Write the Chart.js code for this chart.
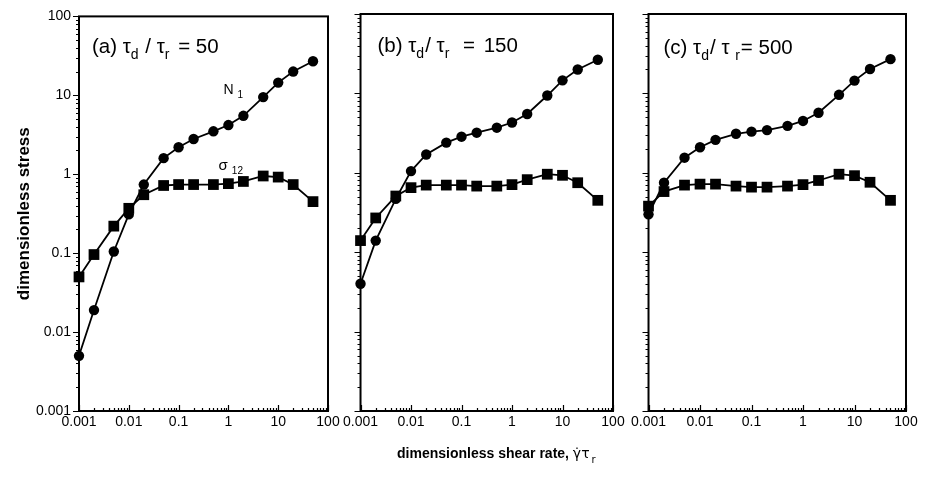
<!DOCTYPE html>
<html>
<head>
<meta charset="utf-8">
<script src="https://cdn.jsdelivr.net/npm/chart.js@4.4.1/dist/chart.umd.min.js"></script>
<style>
  html, body { margin: 0; padding: 0; background: #fff; }
  #wrap { position: relative; width: 928px; height: 482px; overflow: hidden; background: #fff; }
  canvas { position: absolute; top: 0; }
  #xtitle { position: absolute; left: 397px; top: 445px; font: bold 14px "Liberation Sans", Arial, sans-serif; color: #000; white-space: nowrap; }
  #xtitle .sym { font-weight: normal; font-family: "DejaVu Sans", "Liberation Sans", sans-serif; font-size: 14px; }
  #xtitle sub { font-size: 10px; vertical-align: -5px; margin-left: 2px; }
</style>
</head>
<body>
<div id="wrap">
  <canvas id="ca" width="345" height="482" style="left:0px"></canvas>
  <canvas id="cb" width="292" height="482" style="left:340px"></canvas>
  <canvas id="cc" width="300" height="482" style="left:628px"></canvas>
  <div id="xtitle">dimensionless shear rate, <span class="sym">γ̇τ<sub>r</sub></span></div>
</div>
<script>
// ---- data ----
const shearRate = [0.001, 0.002, 0.005, 0.01, 0.02, 0.05, 0.1, 0.2, 0.5, 1, 2, 5, 10, 20, 50];

const n1A  = [0.005, 0.019, 0.105, 0.31, 0.74, 1.6, 2.2, 2.8, 3.5, 4.2, 5.5, 9.5, 14.5, 20, 27];
const s12A = [0.05, 0.096, 0.22, 0.37, 0.55, 0.72, 0.74, 0.74, 0.74, 0.76, 0.81, 0.95, 0.92, 0.74, 0.45];

const n1B  = [0.04, 0.14, 0.47, 1.05, 1.7, 2.4, 2.85, 3.2, 3.7, 4.3, 5.5, 9.4, 14.6, 20, 26.5];
const s12B = [0.14, 0.27, 0.51, 0.65, 0.70, 0.70, 0.70, 0.68, 0.68, 0.71, 0.82, 0.96, 0.93, 0.75, 0.45];

const n1C  = [0.30, 0.75, 1.55, 2.1, 2.6, 3.1, 3.3, 3.45, 3.9, 4.5, 5.7, 9.6, 14.5, 20.3, 27];
const s12C = [0.38, 0.58, 0.70, 0.72, 0.72, 0.68, 0.66, 0.66, 0.68, 0.71, 0.80, 0.96, 0.92, 0.76, 0.45];

const decades = [0.001, 0.01, 0.1, 1, 10, 100];
const tickLabels = ['0.001', '0.01', '0.1', '1', '10', '100'];
const minorMultipliers = [2, 3, 4, 5, 6, 7, 8, 9];

const panelTags = ['(a)', '(b)', '(c)'];
const ratioValues = ['50', '150', '500'];
const yTitle = 'dimensionless stress';
const n1Label = ['N', '1'];
const s12Label = ['σ', '12'];

// ---- helpers ----
const FONT = '"Liberation Sans", Arial, sans-serif';

function allTicks() {
  const out = [];
  decades.forEach((d, i) => {
    out.push(d);
    if (i < decades.length - 1) minorMultipliers.forEach(m => out.push(d * m));
  });
  return out;
}
function isDecade(v) {
  return decades.some(d => Math.abs(v / d - 1) < 1e-6);
}
function labelFor(v) {
  const i = decades.findIndex(d => Math.abs(v / d - 1) < 1e-6);
  return i >= 0 ? tickLabels[i] : '';
}
function pts(ys) { return shearRate.map((x, i) => ({ x, y: ys[i] })); }

function drawRich(ctx, parts, x, y, size) {
  let cx = x;
  parts.forEach(p => {
    const fs = p.sub ? Math.round(size * 0.68) : size;
    ctx.font = fs + 'px ' + FONT;
    ctx.fillText(p.t, cx, p.sub ? y + size * 0.28 : y);
    cx += ctx.measureText(p.t).width + (p.gap || 0);
  });
}

// heading typesetting per panel (spacing mirrors the original figure)
function headingParts(i) {
  const tag = panelTags[i], val = ratioValues[i];
  if (i === 0) return [
    { t: tag + ' τ' }, { t: 'd', sub: true, gap: 1 }, { t: ' / τ' },
    { t: 'r', sub: true, gap: 3 }, { t: ' = ' + val }
  ];
  if (i === 1) return [
    { t: tag + ' τ' }, { t: 'd', sub: true, gap: 1 }, { t: '/ τ' },
    { t: 'r', sub: true, gap: 8 }, { t: ' = ', gap: 3 }, { t: val }
  ];
  return [
    { t: tag + ' τ' }, { t: 'd', sub: true, gap: 1 }, { t: '/ τ ' },
    { t: 'r', sub: true, gap: 1 }, { t: '= ' + val }
  ];
}

const frameTicks = {
  id: 'frameTicks',
  beforeDatasetsDraw(chart) {
    const { ctx, chartArea: a, scales: { x, y } } = chart;
    ctx.save();
    ctx.strokeStyle = '#000';
    ctx.lineWidth = 1.2;
    ctx.beginPath();
    x.ticks.forEach(t => {
      const px = Math.round(x.getPixelForValue(t.value)) + 0.5;
      const len = isDecade(t.value) ? 6 : 3;
      ctx.moveTo(px, a.bottom);
      ctx.lineTo(px, a.bottom - len);
    });
    y.ticks.forEach(t => {
      const py = Math.round(y.getPixelForValue(t.value)) + 0.5;
      const len = isDecade(t.value) ? 6 : 3;
      ctx.moveTo(a.left, py);
      ctx.lineTo(a.left - len, py);
    });
    ctx.stroke();
    ctx.lineWidth = 2;
    ctx.strokeRect(a.left, a.top, a.right - a.left, a.bottom - a.top);
    ctx.restore();
  },
  afterDraw(chart, args, opts) {
    const { ctx, chartArea: a, scales: { x, y } } = chart;
    ctx.save();
    ctx.fillStyle = '#000';
    ctx.textBaseline = 'alphabetic';
    ctx.textAlign = 'left';
    const i = opts.index;
    drawRich(ctx, headingParts(i), a.left + opts.labelDx, a.top + opts.labelDy, 20.5);
    if (i === 0) {
      // curve annotations placed near the curves via the scales
      const nx = x.getPixelForValue(1);
      const ny = y.getPixelForValue(10);
      drawRich(ctx, [{ t: n1Label[0] + ' ' }, { t: n1Label[1], sub: true }], nx - 5, ny - 1, 14);
      const sy = y.getPixelForValue(1);
      drawRich(ctx, [{ t: s12Label[0] + ' ' }, { t: s12Label[1], sub: true }], nx - 10, sy - 4, 15);
    }
    ctx.restore();
  }
};

function makeChart(id, n1, s12, opt) {
  const ctx = document.getElementById(id);
  return new Chart(ctx, {
    type: 'line',
    data: {
      datasets: [
        {
          label: 'N1', data: pts(n1), borderColor: '#000', backgroundColor: '#000',
          borderWidth: 1.8, pointStyle: 'circle', pointRadius: 5.2, pointBorderWidth: 0,
          clip: false, tension: 0
        },
        {
          label: 'σ12', data: pts(s12), borderColor: '#000', backgroundColor: '#000',
          borderWidth: 1.8, pointStyle: 'rect', pointRadius: 7.6, pointBorderWidth: 0,
          clip: false, tension: 0
        }
      ]
    },
    options: {
      responsive: false,
      devicePixelRatio: 1,
      animation: false,
      events: [],
      layout: { padding: { top: 14, right: opt.padRight, left: 0, bottom: 0 } },
      plugins: {
        legend: { display: false },
        tooltip: { enabled: false },
        frameTicks: { index: opt.index, labelDx: opt.labelDx, labelDy: opt.labelDy }
      },
      scales: {
        x: {
          type: 'logarithmic', min: 0.001, max: 100,
          border: { display: false },
          grid: { display: false, drawTicks: false },
          afterBuildTicks: s => { s.ticks = allTicks().map(v => ({ value: v })); },
          afterFit: s => { s.height = 71; },
          ticks: {
            autoSkip: false, maxRotation: 0, minRotation: 0, padding: 3,
            color: '#000', font: { family: FONT, size: 14 },
            callback: v => labelFor(v)
          }
        },
        y: {
          type: 'logarithmic', min: 0.001, max: 100,
          border: { display: false },
          grid: { display: false, drawTicks: false },
          afterBuildTicks: s => { s.ticks = allTicks().map(v => ({ value: v })); },
          afterFit: s => { s.width = opt.yWidth; },
          title: {
            display: opt.index === 0, text: yTitle, color: '#000',
            font: { family: FONT, size: 17, weight: 'bold' },
            padding: { top: 14, bottom: 0 }
          },
          ticks: {
            display: opt.index === 0,
            autoSkip: false, padding: 8,
            color: '#000', font: { family: FONT, size: 14 },
            callback: v => labelFor(v)
          }
        }
      }
    },
    plugins: [frameTicks]
  });
}

makeChart('ca', n1A, s12A, { index: 0, yWidth: 79, padRight: 17, labelDx: 13, labelDy: 37 });
makeChart('cb', n1B, s12B, { index: 1, yWidth: 18, padRight: 19, labelDx: 17, labelDy: 38 });
makeChart('cc', n1C, s12C, { index: 2, yWidth: 19, padRight: 22, labelDx: 15, labelDy: 40 });
</script>
</body>
</html>
